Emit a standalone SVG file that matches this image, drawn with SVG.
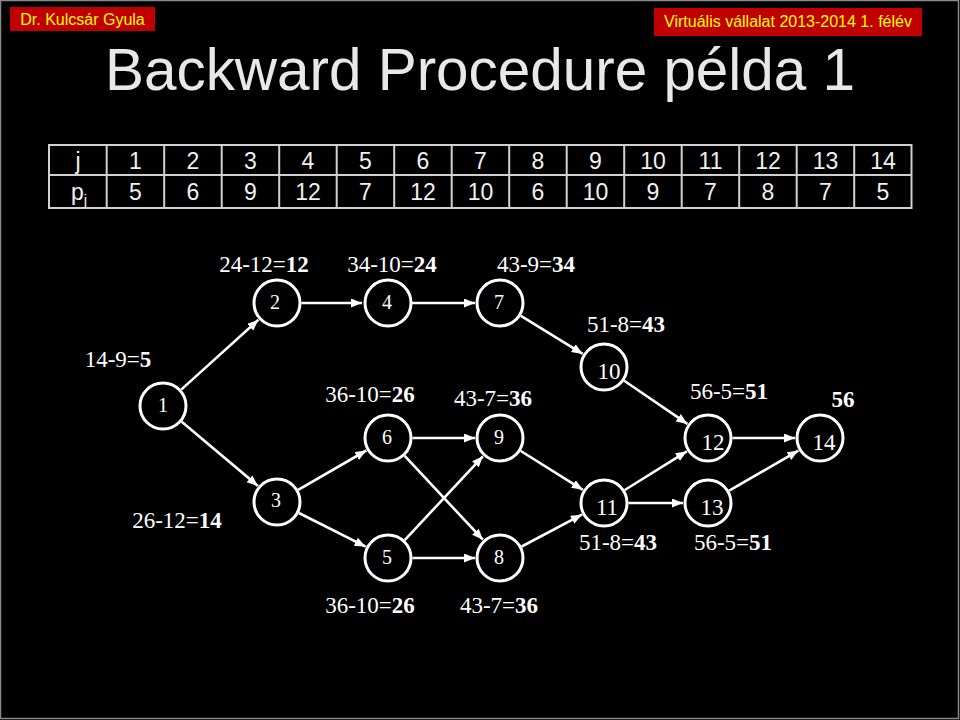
<svg xmlns="http://www.w3.org/2000/svg" width="960" height="720" viewBox="0 0 960 720">
<style>
.bg{fill:#000}
.hdr{fill:#c00000}
.hdrt{font-family:"Liberation Sans",Arial,sans-serif;font-size:16px;fill:#ffff00}
.title{font-family:"Liberation Sans",Arial,sans-serif;font-size:60px;fill:#e8e8e8}
.tbl{fill:none;stroke:#d0d0d0;stroke-width:2}
.tt{font-family:"Liberation Sans",Arial,sans-serif;font-size:23px;fill:#f0f0f0;text-anchor:middle}
.node circle{fill:#000;stroke:#fff;stroke-width:3}
.node text{font-family:"Liberation Serif","Times New Roman",serif;font-size:20px;fill:#fff;text-anchor:middle}
.node text.two{font-size:23px}
.lbl{font-family:"Liberation Serif","Times New Roman",serif;font-size:23px;fill:#fff;text-anchor:middle}
.lbl tspan{font-weight:bold}
#edges line{stroke:#fff;stroke-width:2.6;marker-end:url(#arr)}
</style>
<defs>
<marker id="arr" markerUnits="userSpaceOnUse" markerWidth="12" markerHeight="10" refX="11" refY="4.5" orient="auto">
<path d="M0,0 L11,4.5 L0,9 z" fill="#fff"/>
</marker>
</defs>
<rect class="bg" x="0" y="0" width="960" height="720"/>
<rect x="0.5" y="0.5" width="958" height="718" fill="none" stroke="#888" stroke-width="1.5"/>
<g id="header">
<rect class="hdr" x="10" y="7" width="145" height="24"/>
<text class="hdrt" x="82.5" y="25" text-anchor="middle">Dr. Kulcsár Gyula</text>
<rect class="hdr" x="654" y="8" width="268" height="28"/>
<text class="hdrt" x="788" y="27" text-anchor="middle">Virtuális vállalat 2013-2014 1. félév</text>
</g>
<text class="title" x="105" y="90" textLength="750" lengthAdjust="spacingAndGlyphs">Backward Procedure példa 1</text>
<g id="table">
<rect class="tbl" x="49" y="145" width="862.5" height="63"/>
<line class="tbl" x1="49" y1="175" x2="911.5" y2="175"/>
<path class="tbl" d="M106.7,145V208M164.2,145V208M221.7,145V208M279.2,145V208M336.7,145V208M394.2,145V208M451.7,145V208M509.2,145V208M566.7,145V208M624.2,145V208M681.7,145V208M739.2,145V208M796.7,145V208M854.2,145V208"/>
<text class="tt" x="78" y="169">j</text>
<text class="tt" x="135.5" y="169">1</text>
<text class="tt" x="193" y="169">2</text>
<text class="tt" x="250.5" y="169">3</text>
<text class="tt" x="308" y="169">4</text>
<text class="tt" x="365.5" y="169">5</text>
<text class="tt" x="423" y="169">6</text>
<text class="tt" x="480.5" y="169">7</text>
<text class="tt" x="538" y="169">8</text>
<text class="tt" x="595.5" y="169">9</text>
<text class="tt" x="653" y="169">10</text>
<text class="tt" x="710.5" y="169">11</text>
<text class="tt" x="768" y="169">12</text>
<text class="tt" x="825.5" y="169">13</text>
<text class="tt" x="883" y="169">14</text>
<text class="tt" x="79" y="200">p<tspan font-size="15" dy="5">j</tspan></text>
<text class="tt" x="135.5" y="200">5</text>
<text class="tt" x="193" y="200">6</text>
<text class="tt" x="250.5" y="200">9</text>
<text class="tt" x="308" y="200">12</text>
<text class="tt" x="365.5" y="200">7</text>
<text class="tt" x="423" y="200">12</text>
<text class="tt" x="480.5" y="200">10</text>
<text class="tt" x="538" y="200">6</text>
<text class="tt" x="595.5" y="200">10</text>
<text class="tt" x="653" y="200">9</text>
<text class="tt" x="710.5" y="200">7</text>
<text class="tt" x="768" y="200">8</text>
<text class="tt" x="825.5" y="200">7</text>
<text class="tt" x="883" y="200">5</text>
</g>
<g id="edges">
<line x1="181.2" y1="389.6" x2="258.4" y2="319.8"/>
<line x1="181.7" y1="421.8" x2="257.9" y2="485.9"/>
<line x1="301.5" y1="303" x2="362" y2="303"/>
<line x1="411.5" y1="303" x2="475" y2="303"/>
<line x1="520.9" y1="315.8" x2="582.7" y2="353.9"/>
<line x1="624.2" y1="380.8" x2="687.4" y2="423.9"/>
<line x1="298.2" y1="489.8" x2="366.3" y2="450.5"/>
<line x1="298.9" y1="513" x2="365.7" y2="546.7"/>
<line x1="412.5" y1="438" x2="475" y2="438"/>
<line x1="404.7" y1="455.9" x2="482.9" y2="539.7"/>
<line x1="404.7" y1="540.1" x2="482.9" y2="456.3"/>
<line x1="412.5" y1="558" x2="475" y2="558"/>
<line x1="520.8" y1="451" x2="582.8" y2="489.8"/>
<line x1="521.7" y1="546.5" x2="581.9" y2="514.7"/>
<line x1="624.8" y1="490" x2="686.8" y2="451.3"/>
<line x1="628.5" y1="503" x2="683" y2="503"/>
<line x1="732.5" y1="438" x2="795" y2="438"/>
<line x1="729.2" y1="490.7" x2="798.4" y2="450.6"/>
</g>
<g id="n1" class="node"><circle cx="163" cy="406" r="23"/><text x="163" y="412">1</text></g>
<g id="n2" class="node"><circle cx="277" cy="303" r="23"/><text x="275" y="309">2</text></g>
<g id="n3" class="node"><circle cx="277" cy="502" r="23"/><text x="276" y="507">3</text></g>
<g id="n4" class="node"><circle cx="388" cy="303" r="23"/><text x="387" y="309">4</text></g>
<g id="n5" class="node"><circle cx="388" cy="558" r="23"/><text x="387" y="564">5</text></g>
<g id="n6" class="node"><circle cx="388" cy="438" r="23"/><text x="387" y="444">6</text></g>
<g id="n7" class="node"><circle cx="500" cy="303" r="23"/><text x="499" y="309">7</text></g>
<g id="n8" class="node"><circle cx="500" cy="558" r="23"/><text x="499" y="564">8</text></g>
<g id="n9" class="node"><circle cx="500" cy="438" r="23"/><text x="499" y="444">9</text></g>
<g id="n10" class="node"><circle cx="604" cy="367" r="23"/><text class="two" x="609" y="379">10</text></g>
<g id="n11" class="node"><circle cx="604" cy="503" r="23"/><text class="two" x="607" y="515">11</text></g>
<g id="n12" class="node"><circle cx="708" cy="438" r="23"/><text class="two" x="713" y="450">12</text></g>
<g id="n13" class="node"><circle cx="708" cy="503" r="23"/><text class="two" x="712" y="515">13</text></g>
<g id="n14" class="node"><circle cx="820" cy="438" r="23"/><text class="two" x="824" y="450">14</text></g>
<g id="labels">
<text class="lbl" x="264" y="272">24-12=<tspan>12</tspan></text>
<text class="lbl" x="392" y="272">34-10=<tspan>24</tspan></text>
<text class="lbl" x="536" y="272">43-9=<tspan>34</tspan></text>
<text class="lbl" x="626" y="332">51-8=<tspan>43</tspan></text>
<text class="lbl" x="118" y="367">14-9=<tspan>5</tspan></text>
<text class="lbl" x="370" y="402">36-10=<tspan>26</tspan></text>
<text class="lbl" x="493" y="406">43-7=<tspan>36</tspan></text>
<text class="lbl" x="729" y="399">56-5=<tspan>51</tspan></text>
<text class="lbl" x="843" y="407"><tspan>56</tspan></text>
<text class="lbl" x="177" y="528">26-12=<tspan>14</tspan></text>
<text class="lbl" x="370" y="613">36-10=<tspan>26</tspan></text>
<text class="lbl" x="499" y="613">43-7=<tspan>36</tspan></text>
<text class="lbl" x="618" y="550">51-8=<tspan>43</tspan></text>
<text class="lbl" x="733" y="550">56-5=<tspan>51</tspan></text>
</g>
</svg>
